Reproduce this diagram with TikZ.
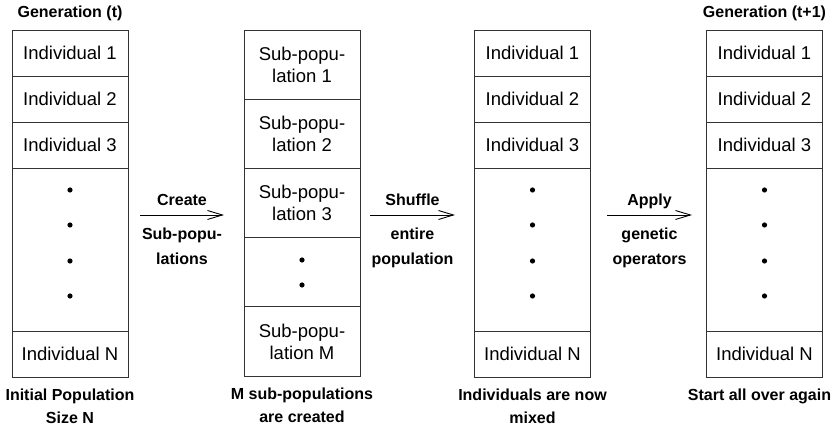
\documentclass[tikz,border=0pt]{standalone}
\usepackage{fontspec}
\setmainfont{Liberation Sans}
\usetikzlibrary{arrows.meta}

\tikzset{
    cell/.style={draw=black!80,line width=0.8pt,minimum width=116pt,inner sep=0pt,align=center,font=\fontsize{18.5}{22}\selectfont},
    lbl/.style={align=center,font=\bfseries\fontsize{16}{23}\selectfont},
    flow/.style={line width=0.9pt,-{Straight Barb[length=15pt,width=9pt,line width=0.9pt]}}
}

\begin{document}
\begin{tikzpicture}[x=1pt,y=-1pt]
        \useasboundingbox (0,0) rectangle (836,427);
        \foreach \col/\x in {a/70,c/532.5,d/764.5}{
            \foreach \i/\y in {1/53,2/99,3/145}
                \node[cell,minimum height=46pt] (\col\i) at (\x,\y) {Individual \i};
            \node[cell,minimum height=163pt] (\col dots) at (\x,249.5) {};
            \node[cell,minimum height=46pt] (\col N) at (\x,354) {Individual N};
            \foreach \y in {190,225,261,296}
                \fill (\x,\y) circle (2.6pt);
        };
        \foreach \i/\y in {1/64.6,2/133.8,3/203}
            \node[cell,minimum height=69.2pt] (b\i) at (302,\y) {Sub-popu-\\lation \i};
        \node[cell,minimum height=69.2pt] (bdots) at (302,272.2) {};
        \node[cell,minimum height=69.2pt] (bM) at (302,341.4) {Sub-popu-\\lation M};
        \foreach \y in {260,285}
            \fill (302,\y) circle (2.6pt);
        \node[lbl,above=5pt] (gent) at (a1.north) {Generation (t)};
        \node[lbl,above=5pt] (gentt) at (d1.north) {Generation (t+1)};
        \node[lbl,below=8pt] (inita) at (aN.south) {Initial Population\\Size N};
        \node[lbl,below=8pt] (initb) at (bM.south) {M sub-populations\\are created};
        \node[lbl,below=8pt] (initc) at (cN.south) {Individuals are now\\mixed};
        \node[lbl,below=8pt,xshift=-5pt] (initd) at (dN.south) {Start all over again};
        \foreach \n/\xa/\xb/\top/\bot in {1/140/224/Create/{Sub-popu-\\lations},2/370/455/Shuffle/{entire\\population},3/607/692/Apply/{genetic\\operators}}{
            \coordinate (s\n) at (\xa,215);
            \coordinate (e\n) at (\xb,215);
            \draw[flow] (s\n) -- (e\n) node[midway,lbl,above=6pt,text depth=0pt] (op\n) {\top} node[midway,lbl,below=9pt,font=\bfseries\fontsize{16}{25}\selectfont] (arg\n) {\bot};
        };
    \end{tikzpicture}
\end{document}
